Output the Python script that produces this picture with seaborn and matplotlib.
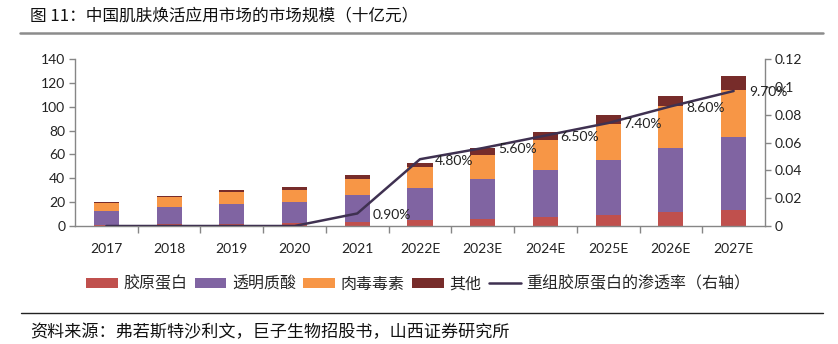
import numpy as np
import pandas as pd
import matplotlib
matplotlib.use("Agg")
import matplotlib.pyplot as plt
import seaborn as sns
from matplotlib.patches import Patch
from matplotlib.lines import Line2D
from matplotlib.ticker import FixedLocator, FuncFormatter

years = ["2017", "2018", "2019", "2020", "2021", "2022E", "2023E", "2024E", "2025E", "2026E", "2027E"]
collagen = [0.5, 1.3, 1.5, 2.5, 3.6, 4.8, 6.2, 7.8, 9.2, 11.5, 13.4]
hyaluronic = [12.0, 14.5, 17.0, 17.5, 22.0, 27.4, 33.0, 39.3, 46.5, 53.5, 61.4]
botox = [7.0, 8.5, 10.0, 10.5, 13.7, 17.1, 20.5, 25.4, 29.7, 35.3, 39.5]
others = [1.0, 1.2, 1.7, 2.5, 3.1, 3.9, 5.6, 5.9, 7.6, 8.7, 11.2]
penetration = [0.0, 0.0, 0.0, 0.0, 0.009, 0.048, 0.056, 0.065, 0.074, 0.086, 0.097]
pen_labels = ["", "", "", "", "0.90%", "4.80%", "5.60%", "6.50%", "7.40%", "8.60%", "9.70%"]

series_names = ["胶原蛋白", "透明质酸", "肉毒毒素", "其他"]
line_name = "重组胶原蛋白的渗透率（右轴）"
title = "图 11：中国肌肤焕活应用市场的市场规模（十亿元）"
source = "资料来源：弗若斯特沙利文，巨子生物招股书，山西证券研究所"
colors = ["#C0504D", "#8064A2", "#F79646", "#772C2A"]
line_color = "#3F3151"
spine_color = "#868686"

sns.set_theme(style="white")
plt.rcParams["font.family"] = ["Lato", "Noto Sans CJK SC", "DejaVu Sans"]
cjk = ["Noto Sans CJK SC", "DejaVu Sans"]

fig = plt.figure(figsize=(8.38, 3.44), dpi=100)
ax = fig.add_axes([75 / 838, 1 - 226 / 344, 690 / 838, 167 / 344])

df = pd.DataFrame({"year": years, "c": collagen, "h": hyaluronic, "b": botox, "o": others})
layers = [df["c"].values, df["h"].values, df["b"].values, df["o"].values]
bottom = np.zeros(len(years))
for vals, col in zip(layers, colors):
    sns.barplot(x=df["year"], y=vals, bottom=bottom, color=col, width=0.4,
                saturation=1, ax=ax, linewidth=0)
    bottom = bottom + vals

ax.set_xlim(-0.5, len(years) - 0.5)
ax.set_ylim(0, 140)
ax.set_yticks(np.arange(0, 141, 20))
ax.set_xlabel("")
ax.set_ylabel("")
ax.xaxis.set_minor_locator(FixedLocator(np.arange(0.5, len(years) - 0.5, 1)))
ax.tick_params(axis="x", which="major", length=0, pad=12, labelsize=10, colors="#222222")
ax.tick_params(axis="x", which="minor", length=5, width=1, color=spine_color, bottom=True)
ax.tick_params(axis="y", which="major", length=4, width=1, color=spine_color, left=True,
               pad=3, labelsize=10, labelcolor="#222222")
for s in ["left", "bottom", "right"]:
    ax.spines[s].set_color(spine_color)
    ax.spines[s].set_linewidth(1)
ax.spines["top"].set_visible(False)
ax.spines["right"].set_visible(False)

ax2 = ax.twinx()
xpos = np.arange(len(years))
sns.lineplot(x=xpos, y=penetration, ax=ax2, color=line_color, linewidth=1.8)
ax2.set_ylim(0, 0.12)
ax2.set_yticks([0, 0.02, 0.04, 0.06, 0.08, 0.1, 0.12])
ax2.yaxis.set_major_formatter(FuncFormatter(lambda v, p: "0" if v == 0 else ("%g" % round(v, 2))))
ax2.tick_params(axis="y", length=4, width=1, color=spine_color, right=True, pad=3,
                labelsize=10, labelcolor="#222222")
ax2.set_ylabel("")
for s in ["top", "left", "bottom"]:
    ax2.spines[s].set_visible(False)
ax2.spines["right"].set_color(spine_color)
ax2.spines["right"].set_linewidth(1)
for xi, v, lab in zip(xpos, penetration, pen_labels):
    if lab:
        ax2.annotate(lab, (xi, v), xytext=(11, -1), textcoords="offset points",
                     ha="left", va="center", fontsize=10, color="#222222")

handles = [Patch(facecolor=c, edgecolor="none") for c in colors]
handles.append(Line2D([0], [0], color=line_color, linewidth=1.8))
fig.legend(handles, series_names + [line_name], loc="center", bbox_to_anchor=(418 / 838, 1 - 284 / 344),
           ncol=5, frameon=False, prop={"family": cjk, "size": 11.5}, handlelength=2.0,
           handleheight=0.62, handletextpad=0.35, columnspacing=0.45, borderpad=0)

fig.text(30 / 838, 1 - 16 / 344, title, ha="left", va="center", fontsize=12, family=cjk, color="#111111")
fig.add_artist(Line2D([20 / 838, 823 / 838], [1 - 33 / 344] * 2, color="#8C8C8C", linewidth=1.8,
                      transform=fig.transFigure))
fig.add_artist(Line2D([21 / 838, 823 / 838], [1 - 313 / 344] * 2, color="#222222", linewidth=1.0,
                      transform=fig.transFigure))
fig.text(30 / 838, 1 - 332 / 344, source, ha="left", va="center", fontsize=12.3, family=cjk, color="#111111")

fig.savefig("out.png", dpi=100)
